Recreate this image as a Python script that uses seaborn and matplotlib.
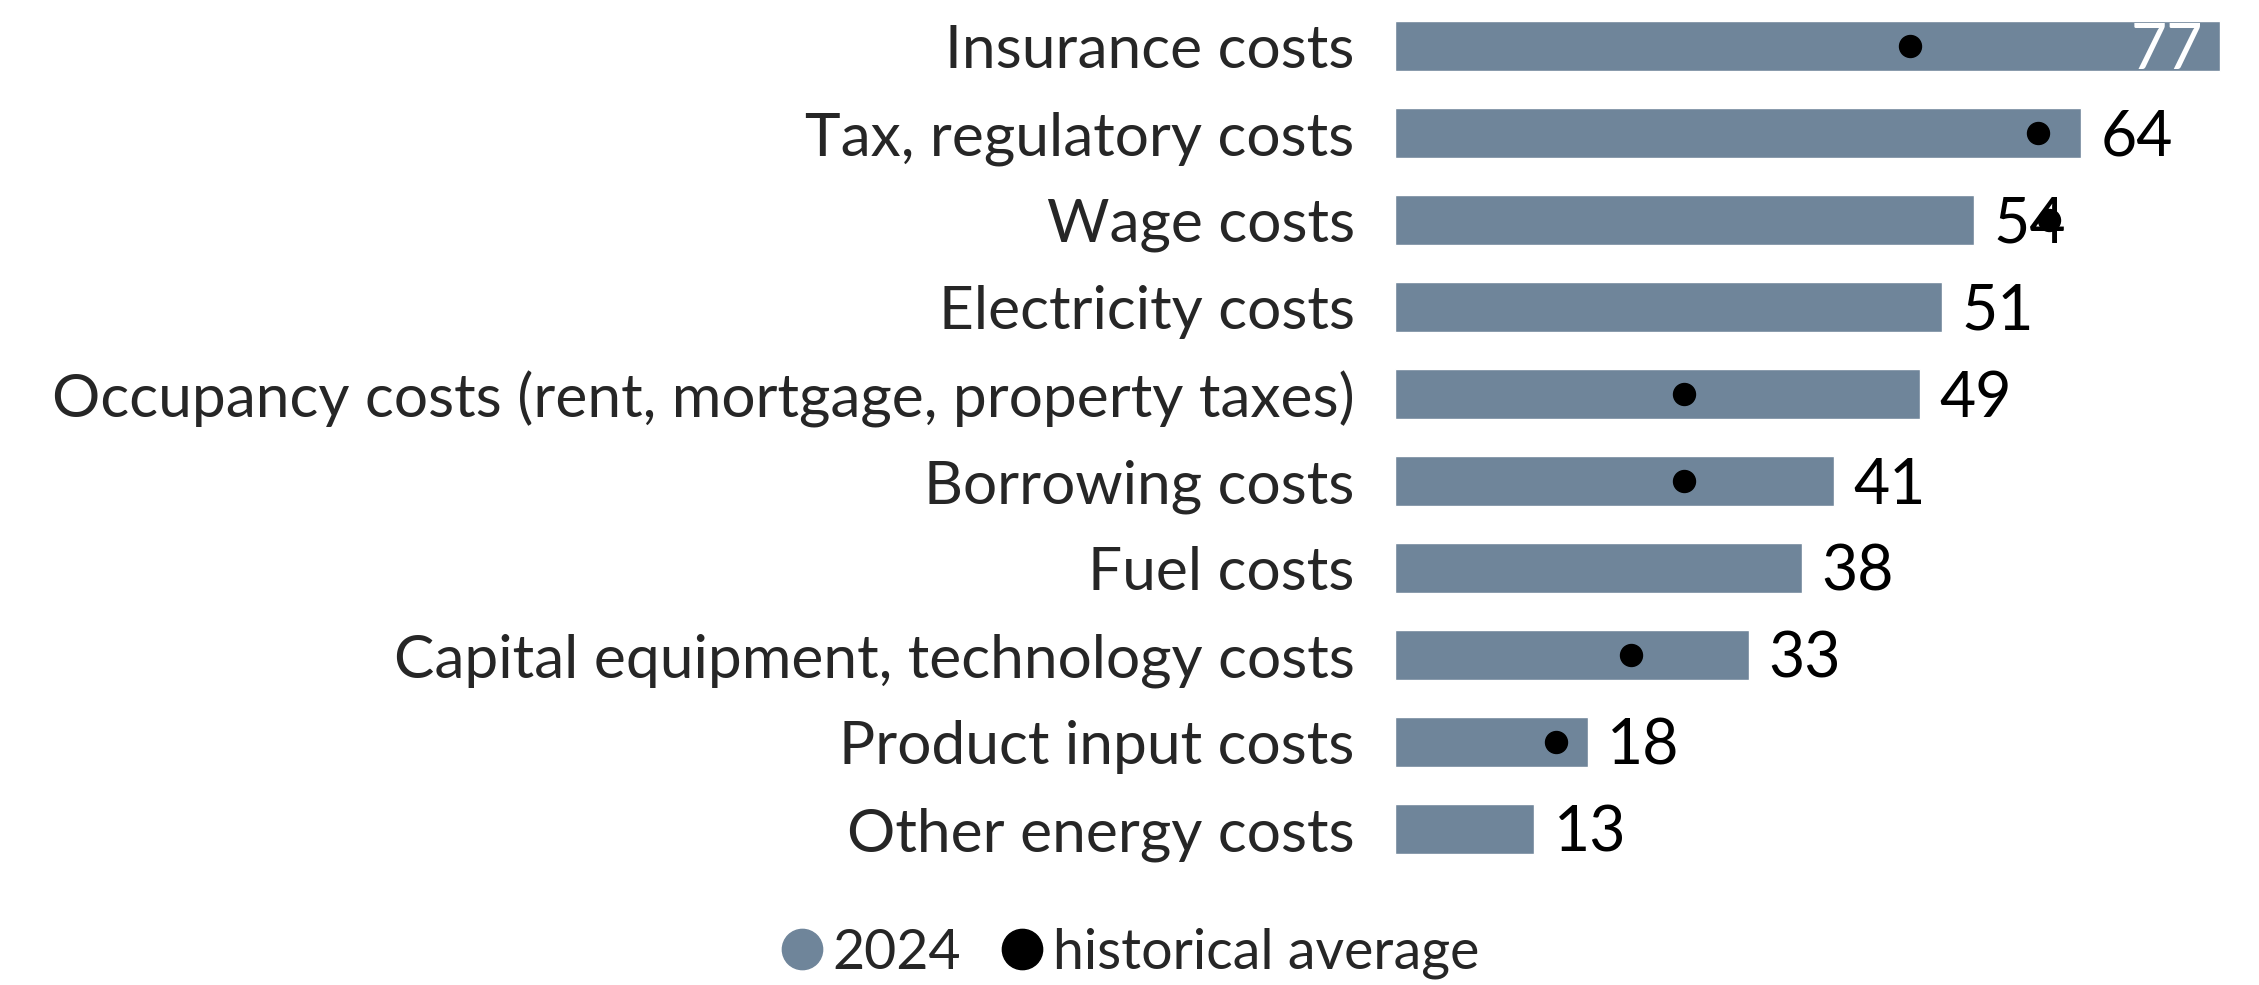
import numpy as np
import pandas as pd
import matplotlib
matplotlib.use('Agg')
import matplotlib.pyplot as plt
from matplotlib.lines import Line2D
import seaborn as sns

# cost pressures, share of respondents (2024) and historical average
categories = ['Insurance costs', 'Tax, regulatory costs', 'Wage costs', 'Electricity costs',
              'Occupancy costs (rent, mortgage, property taxes)', 'Borrowing costs', 'Fuel costs',
              'Capital equipment, technology costs', 'Product input costs', 'Other energy costs']
values_2024 = [77, 64, 54, 51, 49, 41, 38, 33, 18, 13]
hist_avg = [48, 60, 61, np.nan, 27, 27, np.nan, 22, 15, np.nan]

bar_col = '#6f859a'
txt_col = '#262626'

sns.set_style('white')
plt.rcParams['font.family'] = ['Lato', 'DejaVu Sans']

df = pd.DataFrame({'cat': categories, 'val': values_2024, 'hist': hist_avg})

fig = plt.figure(figsize=(22.59, 9.85), dpi=100)
ax = fig.add_axes([0.6175, 0.1142, 0.3825, 0.8858])

sns.barplot(data=df, x='val', y='cat', orient='h', color=bar_col, width=0.57,
            saturation=1, ax=ax)
ax.scatter(df['hist'], np.arange(len(df)), s=250, color='black', zorder=5)

# value labels, baseline placed so the digits sit centred on the bar
for i, v in enumerate(values_2024):
    if i == 0:
        ax.text(v - 1.6, i + 0.26, str(v), ha='right', va='baseline', fontsize=45, color='white')
    else:
        ax.text(v + 1.8, i + 0.26, str(v), ha='left', va='baseline', fontsize=45, color='black')

ax.set_xlim(0, 80.6)
ax.set_ylim(9.5, -0.529)
ax.set_xlabel('')
ax.set_ylabel('')
ax.set_xticks([])
ax.tick_params(axis='y', length=0, pad=29, labelsize=43.5, labelcolor=txt_col)
sns.despine(ax=ax, left=True, bottom=True)

handles = [Line2D([], [], marker='o', ls='none', color=bar_col, markersize=29),
           Line2D([], [], marker='o', ls='none', color='black', markersize=29)]
fig.legend(handles, ['2024', 'historical average'], loc='lower center',
           bbox_to_anchor=(0.5, -0.045), ncol=2, frameon=False, fontsize=40,
           handlelength=0.8, handletextpad=0.15, columnspacing=0.7, labelcolor=txt_col)

fig.savefig('out.png', dpi=100)
